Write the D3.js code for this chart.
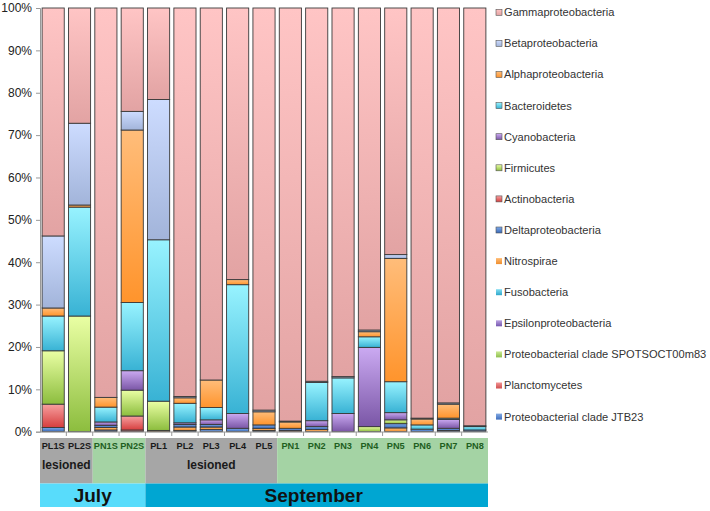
<!DOCTYPE html>
<html><head><meta charset="utf-8">
<script src="https://cdn.jsdelivr.net/npm/d3@7"></script>
<style>body{margin:0;background:#fff;}svg{display:block;font-family:"Liberation Sans",Arial,Helvetica,sans-serif;}</style>
</head><body>
<svg id="chart" width="710" height="511"></svg>
<script>
// ---- data ----
const samples = ["PL1S","PL2S","PN1S","PN2S","PL1","PL2","PL3","PL4","PL5","PN1","PN2","PN3","PN4","PN5","PN6","PN7","PN8"];
// series listed bottom-to-top of the stack
const seriesNames = ["Proteobacterial clade JTB23","Planctomycetes","Proteobacterial clade SPOTSOCT00m83","Epsilonproteobacteria","Fusobacteria","Nitrospirae","Deltaproteobacteria","Actinobacteria","Firmicutes","Cyanobacteria","Bacteroidetes","Alphaproteobacteria","Betaproteobacteria","Gammaproteobacteria"];
const JTB23   = [0,0,0.4,0,0,0.3,0.5,0,0.3,0,0,0,0,0,0,0.3,0];
const Plancto = [0,0,0,0.4,0,0,0,0,0,0,0,0,0,0,0,0,0];
const SPOTS   = [0,0,0,0,0,0,0,0,0,0,0,0,0,0,0,0,0];
const Epsilon = [0,0,0,0,0,0,0,0,0,0,0,0,0,0,0,0,0];
const Fuso    = [0,0,0,0,0,0,0,0,0,0,0,0,0,0,0,0,0];
const Nitro   = [0,0,0.6,0,0.3,0.8,0.6,0,0.5,0.3,0.5,0,0,0.9,0,0,0];
const Delta   = [1.0,0,0.5,0,0,0.6,0.6,0.8,0.8,0.5,0.7,0,0,1.0,0.6,0.5,0.4];
const Actino  = [5.5,0,0,3.3,0,0,0,0,0,0,0,0,0,0,0,0,0];
const Firm    = [12.6,27.3,0,6.1,6.9,0,0,0,0,0,0,0,1.2,0.9,0,0,0];
const Cyano   = [0,0,0.8,4.6,0,0.4,1.1,3.5,0,0,1.4,4.3,18.7,1.7,0,2.1,0];
const Bact    = [8.2,25.7,3.5,16.1,38.1,4.6,2.9,30.4,0,0,9.0,8.4,2.5,7.3,1.0,0.3,0.8];
const Alpha   = [1.9,0.5,2.3,40.7,0,1.3,6.5,1.2,3.1,1.5,0,0,1.2,29.1,1.4,3.3,0];
const Beta    = [17.0,19.3,0,4.4,33.1,0.3,0,0,0.4,0.2,0.3,0.3,0.4,0.9,0.2,0.3,0.2];
const Gamma   = [53.8,27.2,91.9,24.4,21.6,91.7,87.8,64.1,94.9,97.5,88.1,87.0,76.0,58.2,96.8,93.2,98.6];
const seriesValues = [JTB23,Plancto,SPOTS,Epsilon,Fuso,Nitro,Delta,Actino,Firm,Cyano,Bact,Alpha,Beta,Gamma];
const yTicks = [0,10,20,30,40,50,60,70,80,90,100];
const groups = [{label:"lesioned", from:"PL1S", to:"PL2S", kind:"L"},{label:"", from:"PN1S", to:"PN2S", kind:"N"},{label:"lesioned", from:"PL1", to:"PL5", kind:"L"},{label:"", from:"PN1", to:"PN8", kind:"N"}];
const months = [{label:"July", from:"PL1S", to:"PN2S"},{label:"September", from:"PL1", to:"PN8"}];

// colours (top, bottom of gradient)
const colors = {
  "Gammaproteobacteria":["#ffc5c5","#e2a3a3"],
  "Betaproteobacteria":["#cddcff","#a2b4da"],
  "Alphaproteobacteria":["#ffbd7a","#ff942c"],
  "Bacteroidetes":["#98f3ff","#38b2d4"],
  "Cyanobacteria":["#cbaaf2","#7a56a6"],
  "Firmicutes":["#eaffa4","#8cbd3e"],
  "Actinobacteria":["#f7a0a0","#d63e3e"],
  "Deltaproteobacteria":["#7eaaea","#3868b6"],
  "Nitrospirae":["#ffbb74","#ee8e2e"],
  "Fusobacteria":["#84def2","#2ea6ca"],
  "Epsilonproteobacteria":["#bba2e2","#7556ae"],
  "Proteobacterial clade SPOTSOCT00m83":["#cceb94","#8ebe4e"],
  "Planctomycetes":["#f29494","#ce4e4e"],
  "Proteobacterial clade JTB23":["#84aae2","#3e6ebe"]
};

const svg = d3.select("#chart");
const defs = svg.append("defs");
seriesNames.forEach((n,i)=>{
  const g = defs.append("linearGradient").attr("id","g"+i).attr("x1",0).attr("y1",0).attr("x2",0).attr("y2",1);
  g.append("stop").attr("offset","0%").attr("stop-color",colors[n][0]);
  g.append("stop").attr("offset","100%").attr("stop-color",colors[n][1]);
});

const x = d3.scaleBand().domain(samples).range([40,488]).paddingInner(0.16).paddingOuter(0.08);
const y = d3.scaleLinear().domain([0,100]).range([431.7,8]);

// stack
const table = samples.map((s,i)=>{const o={sample:s}; seriesNames.forEach((n,k)=>o[n]=seriesValues[k][i]); return o;});
const stacked = d3.stack().keys(seriesNames)(table);

// bars
const layer = svg.append("g").selectAll("g").data(stacked).join("g").attr("fill",(d,i)=>"url(#g"+i+")");
layer.selectAll("rect").data(d=>d.filter(p=>p[1]-p[0]>0)).join("rect")
  .attr("x",d=>x(d.data.sample)).attr("width",x.bandwidth())
  .attr("y",d=>y(d[1])).attr("height",d=>y(d[0])-y(d[1]))
  .attr("stroke","#3a3a3a").attr("stroke-width",0.9);

// y axis
const yAxis = d3.axisLeft(y).tickValues(yTicks).tickFormat(d=>d+"%").tickSize(4).tickPadding(4);
const ya = svg.append("g").attr("transform","translate(40,0)").call(yAxis);
ya.select(".domain").attr("stroke","#999");
ya.selectAll(".tick line").attr("stroke","#999");
ya.selectAll("text").attr("font-size",12).attr("fill","#222").attr("font-family","'Liberation Sans',Arial,sans-serif");

// x axis line with ticks at band boundaries
const step = x.step();
const xa = svg.append("g");
xa.append("line").attr("x1",40).attr("x2",488).attr("y1",432).attr("y2",432).attr("stroke","#999");
samples.forEach((s,i)=>{
  if(i===0) return;
  const bx = x(s) - (step - x.bandwidth())/2;
  xa.append("line").attr("x1",bx).attr("x2",bx).attr("y1",432).attr("y2",436).attr("stroke","#999");
});

// group boxes
const boxLeft = s => x(s) - (step - x.bandwidth())/2;
const boxRight = s => x(s) + x.bandwidth() + (step - x.bandwidth())/2;
const gb = svg.append("g");
groups.forEach(g=>{
  const x0 = Math.max(40, boxLeft(g.from)), x1 = Math.min(488, boxRight(g.to));
  gb.append("rect").attr("x",x0).attr("y",438).attr("width",x1-x0).attr("height",45.5)
    .attr("fill", g.kind==="L" ? "#a6a6a6" : "#a4d3a4");
  if(g.label) gb.append("text").attr("x",(x0+x1)/2).attr("y",469).attr("text-anchor","middle")
    .attr("font-size",12).attr("font-weight","bold").attr("fill","#1a1a1a").text(g.label);
});
samples.forEach(s=>{
  gb.append("text").attr("x",x(s)+x.bandwidth()/2).attr("y",448.5).attr("text-anchor","middle")
    .attr("font-size",9.2).attr("font-weight","bold")
    .attr("fill", s.startsWith("PN") ? "#1f5f1f" : "#1a1a1a").text(s);
});
months.forEach((m,i)=>{
  const x0 = Math.max(40, boxLeft(m.from)), x1 = Math.min(488, boxRight(m.to));
  gb.append("rect").attr("x",x0).attr("y",483.5).attr("width",x1-x0).attr("height",23.5)
    .attr("fill", i===0 ? "#58dcfb" : "#00a6d2");
  gb.append("text").attr("x",(x0+x1)/2 - (i===0?0:3)).attr("y",502).attr("text-anchor","middle")
    .attr("font-size",19).attr("font-weight","bold").attr("fill","#111").text(m.label);
});

// legend (top = last series)
const legendOrder = seriesNames.slice().reverse();
const lg = svg.append("g");
legendOrder.forEach((n,i)=>{
  const cy = 12.3 + i*31.1;
  const k = seriesNames.indexOf(n);
  lg.append("rect").attr("x",496).attr("y",cy-3).attr("width",6).attr("height",6)
    .attr("fill","url(#g"+k+")").attr("stroke", i<8 ? "#555" : "none").attr("stroke-width",0.6);
  lg.append("text").attr("x",504).attr("y",cy+3.9).attr("font-size",11.1).attr("fill","#333").text(n);
});
</script>
</body></html>
